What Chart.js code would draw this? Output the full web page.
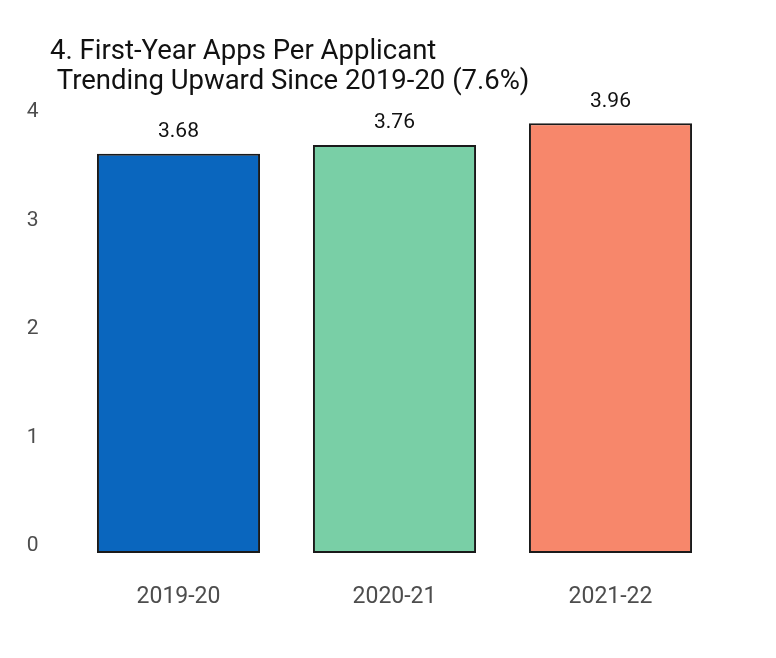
<!DOCTYPE html>
<html>
<head>
<meta charset="utf-8">
<script src="https://cdn.jsdelivr.net/npm/chart.js@4"></script>
<style>
  html, body { margin: 0; padding: 0; background: #ffffff; }
  #wrap { width: 776px; height: 658px; position: relative; }
</style>
</head>
<body>
<div id="wrap"><canvas id="c" width="776" height="658"></canvas></div>
<script>
const titleLines = ["4. First-Year Apps Per Applicant", " Trending Upward Since 2019-20 (7.6%)"];
const categories = ["2019-20", "2020-21", "2021-22"];
const appsPerApplicant = [3.68, 3.76, 3.96];
const barColors = ["#0A66BE", "#79CFA6", "#F7876B"];
const yTicks = [0, 1, 2, 3, 4];

Chart.defaults.font.family = "Roboto, 'Noto Sans', sans-serif";

const titlePlugin = {
  id: 'customTitle',
  afterDraw(chart) {
    const ctx = chart.ctx;
    ctx.save();
    ctx.fillStyle = '#111111';
    ctx.font = "27.5px Roboto, 'Noto Sans', sans-serif";
    ctx.textAlign = 'left';
    ctx.textBaseline = 'alphabetic';
    titleLines.forEach((t, i) => ctx.fillText(t, 50, 59 + i * 30));
    ctx.restore();
  }
};

const valueLabels = {
  id: 'valueLabels',
  afterDatasetsDraw(chart) {
    const ctx = chart.ctx;
    const meta = chart.getDatasetMeta(0);
    ctx.save();
    ctx.fillStyle = '#111111';
    ctx.font = "21px Roboto, 'Noto Sans', sans-serif";
    ctx.textAlign = 'center';
    ctx.textBaseline = 'middle';
    meta.data.forEach((bar, i) => {
      ctx.fillText(appsPerApplicant[i].toFixed(2), bar.x, bar.y - 22);
    });
    ctx.restore();
  }
};

new Chart(document.getElementById('c'), {
  type: 'bar',
  data: {
    labels: categories,
    datasets: [{
      data: appsPerApplicant,
      backgroundColor: barColors,
      borderColor: '#1a1a1a',
      borderWidth: 2,
      borderSkipped: false,
      categoryPercentage: 1,
      barPercentage: 0.755
    }]
  },
  options: {
    responsive: false,
    animation: false,
    layout: { padding: { top: 97.3, right: 57.5, bottom: 0, left: 0 } },
    plugins: {
      legend: { display: false },
      title: { display: false },
      tooltip: { enabled: false }
    },
    scales: {
      x: {
        grid: { display: false, drawTicks: false },
        border: { display: false },
        ticks: { color: '#4d4d4d', font: { size: 23 }, padding: 30 },
        afterFit(scale) { scale.height = 105; }
      },
      y: {
        min: 0,
        max: 4.2,
        grid: { display: false, drawTicks: false },
        border: { display: false },
        ticks: { color: '#4d4d4d', font: { size: 21 }, padding: 32, labelOffset: -7 },
        afterBuildTicks(scale) { scale.ticks = yTicks.map(v => ({ value: v })); },
        afterFit(scale) { scale.width = 70.5; }
      }
    }
  },
  plugins: [titlePlugin, valueLabels]
});
</script>
</body>
</html>
